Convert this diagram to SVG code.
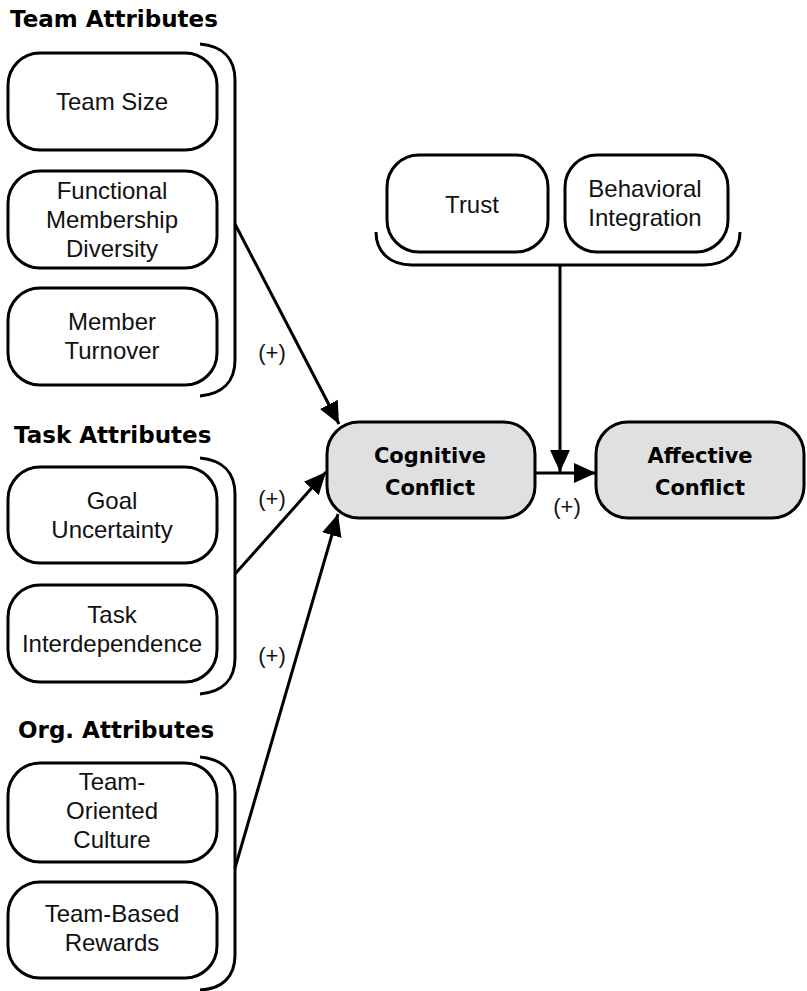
<svg xmlns="http://www.w3.org/2000/svg" width="807" height="991" viewBox="0 0 807 991">
<style>
.bg{fill:#fff}
.box{fill:#fff;stroke:#000;stroke-width:3}
.key{fill:#e0e0e0;stroke:#000;stroke-width:3}
.br{fill:none;stroke:#000;stroke-width:3}
.ln{fill:none;stroke:#000;stroke-width:3}
.t{font-family:"Liberation Sans",Arial,sans-serif;font-size:24px;fill:#111;text-anchor:middle}
.h{font-family:"DejaVu Sans",sans-serif;font-weight:bold;font-size:23px;fill:#000}
.b{font-family:"DejaVu Sans",sans-serif;font-weight:bold;font-size:21px;fill:#000;text-anchor:middle}
.p{font-family:"Liberation Sans",Arial,sans-serif;font-size:22px;fill:#111;text-anchor:middle}
</style>
<defs>
<marker id="ah" markerUnits="userSpaceOnUse" markerWidth="24" markerHeight="24" viewBox="0 0 24 24" refX="22" refY="12" orient="auto">
<path d="M0,2 L22,12 L0,22 Z" fill="#000"/>
</marker>
</defs>
<rect class="bg" width="807" height="991"/>

<g id="titles">
<text class="h" x="10" y="27">Team Attributes</text>
<text class="h" x="14" y="443">Task Attributes</text>
<text class="h" x="18" y="738">Org. Attributes</text>
</g>

<g id="brackets">
<path class="br" d="M200,44 C222,46 235,58 235,80 L235,360 C235,382 222,394 200,396"/>
<path class="br" d="M200,458 C222,460 235,472 235,494 L235,658 C235,680 222,692 200,694"/>
<path class="br" d="M200,757 C222,759 235,771 235,793 L235,955 C235,977 222,989 200,990"/>
<path class="br" d="M376,232 C376,252 390,265 412,265 L704,265 C726,265 740,252 740,232"/>
</g>

<g id="team-size"><rect class="box" x="8" y="53" width="209" height="97" rx="32"/><text class="t" x="112" y="110">Team Size</text></g>
<g id="functional"><rect class="box" x="8" y="171" width="209" height="97" rx="32"/><text class="t" x="112" y="199">Functional</text><text class="t" x="112" y="228">Membership</text><text class="t" x="112" y="257">Diversity</text></g>
<g id="turnover"><rect class="box" x="8" y="288" width="209" height="97" rx="32"/><text class="t" x="112" y="330">Member</text><text class="t" x="112" y="359">Turnover</text></g>
<g id="goal"><rect class="box" x="8" y="467" width="209" height="96" rx="32"/><text class="t" x="112" y="509">Goal</text><text class="t" x="112" y="538">Uncertainty</text></g>
<g id="task-interdep"><rect class="box" x="8" y="585" width="209" height="97" rx="32"/><text class="t" x="112" y="623">Task</text><text class="t" x="112" y="652">Interdependence</text></g>
<g id="culture"><rect class="box" x="8" y="763" width="209" height="99" rx="32"/><text class="t" x="112" y="790">Team-</text><text class="t" x="112" y="819">Oriented</text><text class="t" x="112" y="848">Culture</text></g>
<g id="rewards"><rect class="box" x="8" y="882" width="209" height="96" rx="32"/><text class="t" x="112" y="922">Team-Based</text><text class="t" x="112" y="951">Rewards</text></g>
<g id="trust"><rect class="box" x="387" y="155" width="161" height="97" rx="32"/><text class="t" x="472" y="213">Trust</text></g>
<g id="behavioral"><rect class="box" x="565" y="155" width="163" height="97" rx="32"/><text class="t" x="645" y="197">Behavioral</text><text class="t" x="645" y="226">Integration</text></g>
<g id="cognitive"><rect class="key" x="327" y="422" width="208" height="96" rx="32"/><text class="b" x="430" y="463">Cognitive</text><text class="b" x="430" y="495">Conflict</text></g>
<g id="affective"><rect class="key" x="596" y="422" width="208" height="96" rx="32"/><text class="b" x="700" y="463">Affective</text><text class="b" x="700" y="495">Conflict</text></g>

<g id="connectors">
<line class="ln" x1="235" y1="224" x2="339" y2="424" marker-end="url(#ah)"/>
<line class="ln" x1="235" y1="574" x2="326" y2="472" marker-end="url(#ah)"/>
<line class="ln" x1="235" y1="868" x2="338" y2="514" marker-end="url(#ah)"/>
<line class="ln" x1="560" y1="265" x2="560" y2="472" marker-end="url(#ah)"/>
<line class="ln" x1="535" y1="473" x2="596" y2="473" marker-end="url(#ah)"/>
<text class="p" x="272" y="360">(+)</text>
<text class="p" x="272" y="506">(+)</text>
<text class="p" x="272" y="663">(+)</text>
<text class="p" x="567" y="514">(+)</text>
</g>
</svg>
